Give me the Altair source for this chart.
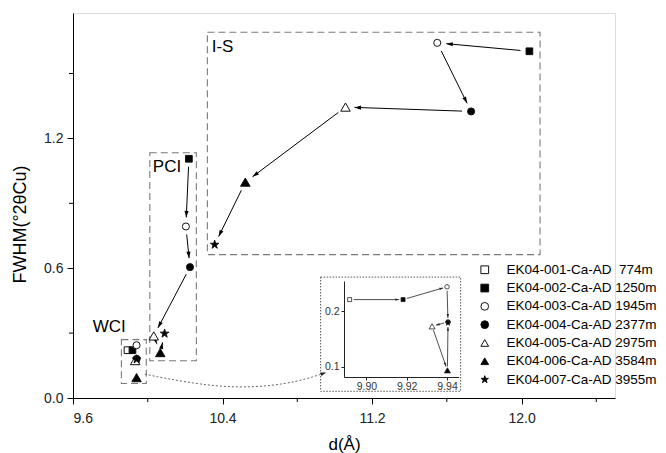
import math
import altair as alt
import pandas as pd

# ---------------- data ----------------
SERIES = ["EK04-001-Ca-AD\u00a0 774m", "EK04-002-Ca-AD 1250m", "EK04-003-Ca-AD 1945m",
          "EK04-004-Ca-AD 2377m", "EK04-005-Ca-AD 2975m", "EK04-006-Ca-AD 3584m",
          "EK04-007-Ca-AD 3955m"]

# WCI group (all seven samples)
wci_series = SERIES
wci_d = [9.8917, 9.9182, 9.9400, 9.9405, 9.9326, 9.9402, 9.9405]
wci_fwhm = [0.221, 0.221, 0.244, 0.181, 0.173, 0.094, 0.179]

# PCI group (002 - 007)
pci_series = SERIES[1:]
pci_d = [10.220, 10.204, 10.226, 10.032, 10.067, 10.090]
pci_fwhm = [1.106, 0.793, 0.605, 0.287, 0.210, 0.298]

# I-S group (002 - 007)
is_series = SERIES[1:]
is_d = [12.042, 11.549, 11.730, 11.058, 10.522, 10.358]
is_fwhm = [1.603, 1.642, 1.325, 1.345, 0.998, 0.709]

# group boxes (d range, FWHM range) and their labels
box_names = ["I-S", "PCI", "WCI"]
box_d0 = [10.319, 10.011, 9.859]
box_d1 = [12.099, 10.260, 9.992]
box_f0 = [0.663, 0.172, 0.067]
box_f1 = [1.691, 1.134, 0.270]
label_d = [10.342, 10.027, 9.794]
label_f = [1.624, 1.068, 0.329]
label_align = ["left", "left", "center"]

# inset frame (in main axes coordinates) and connector curve
inset_frame_d = [10.925, 11.674]
inset_frame_f = [0.031, 0.559]
curve_d = [9.984, 10.40, 10.75, 10.955]
curve_f = [0.110, 0.040, 0.060, 0.118]

x_ticks = [9.6, 10.4, 11.2, 12.0]
x_minor = [10.0, 10.8, 11.6, 12.4]
y_ticks = [0.0, 0.6, 1.2]
y_minor = [0.3, 0.9, 1.5]
inset_x_ticks = [9.90, 9.92, 9.94]
inset_y_ticks = [0.1, 0.2]

# ---------------- layout ----------------
W, H = 542, 385
XMIN, XMAX = 9.6, 12.5
YMIN, YMAX = 0.0, 1.78
KX, KY = W / (XMAX - XMIN), H / (YMAX - YMIN)

IN_XR = [271.0, 385.7]
IN_YR = [364, 268]
IN_XD = [9.8889, 9.9458]
IN_YD = [0.082, 0.2544]
IKX = (IN_XR[1] - IN_XR[0]) / (IN_XD[1] - IN_XD[0])
IKY = (IN_YR[0] - IN_YR[1]) / (IN_YD[1] - IN_YD[0])

FONT = "Liberation Sans"
STAR = ("M0,-1L0.2245,-0.309L0.951,-0.309L0.3633,0.118L0.5878,0.809L0,0.382"
        "L-0.5878,0.809L-0.3633,0.118L-0.951,-0.309L-0.2245,-0.309Z")
HEAD = "M0,0L0.75,2.4L-0.75,2.4Z"

SHAPE_OF = dict(zip(SERIES, ["square", "square", "circle", "circle", "triangle-up",
                             "triangle-up", STAR]))
FILL_OF = dict(zip(SERIES, ["white", "black", "white", "black", "white", "black", "black"]))
SIZE_MAIN = dict(zip(SERIES, [45, 45, 50, 50, 90, 90, 80]))
SIZE_INSET = dict(zip(SERIES, [16, 16, 20, 20, 36, 36, 34]))


def arrow_rows(xs, ys, kx, ky, g0, g1):
    rows = []
    for i in range(len(xs) - 1):
        x0, y0, x1, y1 = xs[i], ys[i], xs[i + 1], ys[i + 1]
        dxp = (x1 - x0) * kx
        dyp = -(y1 - y0) * ky
        L = math.hypot(dxp, dyp)
        ux, uy = dxp / L, dyp / L
        rows.append(dict(
            x=x0 + ux * g0 / kx, y=y0 - uy * g0 / ky,
            x2=x1 - ux * g1 / kx, y2=y1 + uy * g1 / ky,
            angle=math.degrees(math.atan2(ux, -uy)) % 360))
    return rows


def point_rows(group, series, ds, fs):
    return [dict(group=group, series=s, d=x, f=y, shp=SHAPE_OF[s], fil=FILL_OF[s],
                 sz=SIZE_MAIN[s], szi=SIZE_INSET[s]) for s, x, y in zip(series, ds, fs)]


pts = pd.DataFrame(point_rows("WCI", wci_series, wci_d, wci_fwhm)
                   + point_rows("PCI", pci_series, pci_d, pci_fwhm)
                   + point_rows("I-S", is_series, is_d, is_fwhm))

arr_main = pd.DataFrame(arrow_rows(pci_d, pci_fwhm, KX, KY, 8, 9)
                        + arrow_rows(is_d, is_fwhm, KX, KY, 9, 9))
arr_inset = pd.DataFrame(arrow_rows(wci_d, wci_fwhm, IKX, IKY, 4, 4))

boxes = pd.DataFrame(dict(name=box_names, d0=box_d0, d1=box_d1, f0=box_f0, f1=box_f1))
labels = pd.DataFrame(dict(name=box_names, d=label_d, f=label_f, al=label_align))
frame = pd.DataFrame(dict(d0=[inset_frame_d[0]], d1=[inset_frame_d[1]],
                          f0=[inset_frame_f[0]], f1=[inset_frame_f[1]]))
curve = pd.DataFrame(dict(d=curve_d, f=curve_f, o=list(range(len(curve_d)))))
curve_head = pd.DataFrame(arrow_rows(curve_d[-2:], curve_f[-2:], KX, KY, 0, 0))

xs = alt.Scale(domain=[XMIN, XMAX], nice=False, zero=False)
ys = alt.Scale(domain=[YMIN, YMAX], nice=False, zero=False)
x_axis = alt.Axis(values=x_ticks, format=".1f", tickSize=6, labelPadding=7, title="d(Å)",
                  grid=False, domainColor="black", tickColor="black", labelColor="#222",
                  labelFontSize=14, titleFontSize=17, titleFontWeight="normal",
                  titleY=51, titleBaseline="alphabetic", titleColor="black", labelFont=FONT,
                  titleFont=FONT)
y_axis = alt.Axis(values=y_ticks, format=".1f", tickSize=6, labelPadding=4,
                  title="FWHM(°2θCu)", grid=False, domainColor="black", tickColor="black",
                  labelColor="#222", labelFontSize=14, titleFontSize=18,
                  titleFontWeight="normal", titleX=-53, titleY=211, titleAngle=270,
                  titleBaseline="middle", titleAlign="center", titleColor="black",
                  labelFont=FONT, titleFont=FONT)


def X(field):
    return alt.X(field, type="quantitative", scale=xs, axis=x_axis)


def Y(field):
    return alt.Y(field, type="quantitative", scale=ys, axis=y_axis)


box_layer = alt.Chart(boxes).mark_rect(fill="transparent", stroke="#7a7a7a", strokeWidth=1.1,
                                       strokeDash=[7, 4]).encode(
    x=X("d0"), x2="d1", y=Y("f0"), y2="f1")
frame_layer = alt.Chart(frame).mark_rect(fill="transparent", stroke="#555", strokeWidth=1,
                                         strokeDash=[1.5, 1.5]).encode(
    x=X("d0"), x2="d1", y=Y("f0"), y2="f1")
label_left = alt.Chart(labels).transform_filter(alt.datum.al == "left").mark_text(
    fontSize=17, font=FONT, baseline="middle", align="left", color="black").encode(
    x=X("d"), y=Y("f"), text="name:N")
label_center = alt.Chart(labels).transform_filter(alt.datum.al == "center").mark_text(
    fontSize=17, font=FONT, baseline="middle", align="center", color="black").encode(
    x=X("d"), y=Y("f"), text="name:N")

shaft_layer = alt.Chart(arr_main).mark_rule(color="black", strokeWidth=1).encode(
    x=X("x"), y=Y("y"), x2="x2", y2="y2")
head_layer = alt.Chart(arr_main).mark_point(shape=HEAD, filled=True, color="black",
                                            size=30, opacity=1).encode(
    x=X("x2"), y=Y("y2"), angle=alt.Angle("angle:Q", scale=None))

curve_layer = alt.Chart(curve).mark_line(color="#666", strokeWidth=1, strokeDash=[2, 2],
                                         interpolate="basis").encode(
    x=X("d"), y=Y("f"), order="o:Q")
curve_head_layer = alt.Chart(curve_head).mark_point(shape=HEAD, filled=True, color="#222",
                                                    size=22, opacity=1).encode(
    x=X("x2"), y=Y("y2"), angle=alt.Angle("angle:Q", scale=None))

legend = alt.Legend(title=None, orient="none", legendX=405, legendY=250, padding=0,
                    labelFontSize=13.5, labelFont=FONT, labelColor="black", labelLimit=400,
                    symbolSize=60, symbolStrokeWidth=1, rowPadding=3.3, labelOffset=15)
point_layer = alt.Chart(pts).mark_point(strokeWidth=1, opacity=1, fillOpacity=1).encode(
    x=X("d"), y=Y("f"),
    shape=alt.Shape("series:N", scale=alt.Scale(domain=SERIES,
                                                range=[SHAPE_OF[s] for s in SERIES]),
                    legend=legend),
    fill=alt.Fill("series:N", scale=alt.Scale(domain=SERIES,
                                              range=[FILL_OF[s] for s in SERIES]),
                  legend=legend),
    stroke=alt.Stroke("series:N", scale=alt.Scale(domain=SERIES, range=["#111"] * 7),
                      legend=legend),
    size=alt.Size("sz:Q", scale=None))

xminor_layer = alt.Chart(pd.DataFrame(dict(v=x_minor))).mark_rule(color="black").encode(
    x=X("v"), y=alt.value(H), y2=alt.value(H + 4))
yminor_layer = alt.Chart(pd.DataFrame(dict(v=y_minor))).mark_rule(color="black").encode(
    y=Y("v"), x=alt.value(0), x2=alt.value(-4))

main = alt.layer(box_layer, frame_layer, label_left, label_center, curve_layer,
                 curve_head_layer, shaft_layer, head_layer, point_layer, xminor_layer,
                 yminor_layer)

# ---------------- inset ----------------
ixs = alt.Scale(domain=IN_XD, range=IN_XR, nice=False, zero=False)
iys = alt.Scale(domain=IN_YD, range=IN_YR, nice=False, zero=False)
ix_axis = alt.Axis(orient="bottom", offset=IN_YR[0] - H, values=inset_x_ticks, format=".2f",
                   tickSize=3, labelPadding=1, title=None, grid=False, domainColor="#222",
                   tickColor="#222", labelColor="#333", labelFontSize=10.5, labelFont=FONT)
iy_axis = alt.Axis(orient="left", offset=-IN_XR[0], values=inset_y_ticks, format=".1f",
                   tickSize=3, labelPadding=2, title=None, grid=False, domainColor="#222",
                   tickColor="#222", labelColor="#333", labelFontSize=10.5, labelFont=FONT)


def IX(field):
    return alt.X(field, type="quantitative", scale=ixs, axis=ix_axis)


def IY(field):
    return alt.Y(field, type="quantitative", scale=iys, axis=iy_axis)


wci = pts[pts.group == "WCI"]
ishaft = alt.Chart(arr_inset).mark_rule(color="#222", strokeWidth=0.8).encode(
    x=IX("x"), y=IY("y"), x2="x2", y2="y2")
ihead = alt.Chart(arr_inset).mark_point(shape=HEAD, filled=True, color="#222", size=10,
                                        opacity=1).encode(
    x=IX("x2"), y=IY("y2"), angle=alt.Angle("angle:Q", scale=None))
ipts = alt.Chart(wci).mark_point(stroke="#222", strokeWidth=0.8, opacity=1,
                                 fillOpacity=1).encode(
    x=IX("d"), y=IY("f"),
    shape=alt.Shape("shp:N", scale=None),
    fill=alt.Fill("fil:N", scale=None),
    size=alt.Size("szi:Q", scale=None))
inset = alt.layer(ishaft, ihead, ipts)

chart = alt.layer(main, inset).resolve_scale(
    x="independent", y="independent").properties(
    width=W, height=H, padding={"left": 65, "top": 5, "right": 650 - 65 - W,
                                "bottom": 445 - 5 - H},
    autosize=alt.AutoSizeParams(type="none")).configure_view(
    stroke=None, fill="white").configure(font=FONT, background="white")

chart.save("out.html", embed_options={"renderer": "svg", "actions": False})
